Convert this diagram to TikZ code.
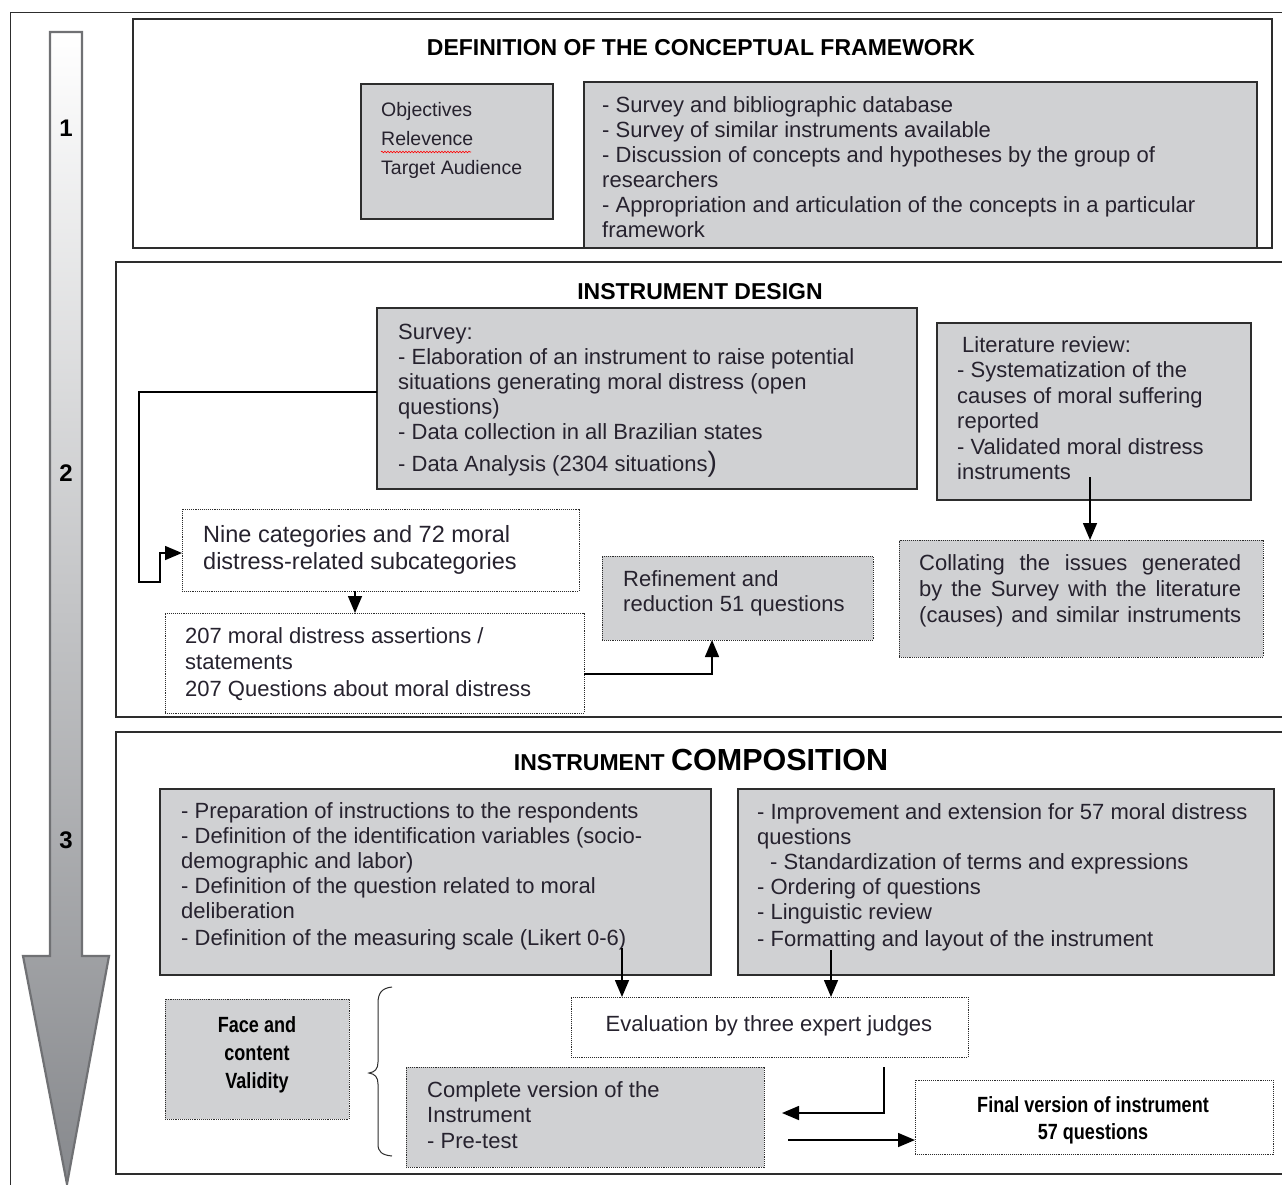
\documentclass[tikz,border=0pt]{standalone}
\usepackage{fontspec}
\setmainfont{Liberation Sans}
\newfontfamily\narrowfont{Liberation Sans}[FakeStretch=0.82]
\usetikzlibrary{arrows.meta,decorations.pathmorphing}
\definecolor{boxgray}{RGB}{208,209,211}
\definecolor{ink}{RGB}{38,34,46}
\definecolor{edgec}{RGB}{45,45,45}
\definecolor{arrowgray}{RGB}{135,137,141}
\definecolor{arrowedge}{RGB}{112,113,116}
\newcommand{\fsz}[2]{\fontsize{#1}{#2}\selectfont}
\tikzset{
  secbox/.style={draw=edgec, line width=1.3pt, anchor=north west, inner sep=0, outer sep=0},
  gbox/.style={draw=edgec, line width=1.3pt, fill=boxgray, anchor=north west, inner sep=0, outer sep=0},
  dbox/.style={draw=edgec, line width=0.9pt, densely dotted, fill=white, anchor=north west, inner sep=0, outer sep=0},
  dgbox/.style={dbox, fill=boxgray},
  txt/.style={anchor=north west, inner sep=0, align=left, text=ink, font=\fsz{22}{25}},
  ttl/.style={font=\bfseries\fsz{23}{27}, text=black, inner sep=0},
  num/.style={font=\bfseries\fsz{24}{28}, text=black, inner sep=0},
  bnarrow/.style={font=\narrowfont\bfseries\fsz{22}{28}, text=black, inner sep=0, align=center},
  arr/.style={draw=black, line width=1.5pt, -{Triangle[length=17pt,width=14pt]}}
}
\begin{document}
\begin{tikzpicture}[x=1pt,y=-1pt]
\useasboundingbox (0,0) rectangle (1282,1184);
\clip (0,0) rectangle (1282,1184);
\fill[white] (0,0) rectangle (1282,1184);

% outer frame
\node[secbox, line width=1pt, minimum width=1300, minimum height=1200] (frame) at (10,12) {};

% big arrow
\shade[top color=white, bottom color=arrowgray]
  (50,32) -- (82,32) -- (82,956) -- (109,956) -- (67,1184) -- (23,956) -- (50,956) -- cycle;
\draw[arrowedge, line width=2.2pt, line join=miter]
  (50,32) -- (82,32) -- (82,956) -- (109,956) -- (67,1184) -- (23,956) -- (50,956) -- cycle;
\node[num] (n1) at (66,128) {1};
\node[num] (n2) at (66,473) {2};
\node[num] (n3) at (66,840) {3};

% ---------- section 1
\node[secbox, minimum width=1139, minimum height=229] (sec1) at (133,19) {};
\node[ttl] (t1) at (701,48) {DEFINITION OF THE CONCEPTUAL FRAMEWORK};
\node[gbox, minimum width=192, minimum height=135] (obj) at (361,84) {};
\node[txt, font=\fsz{19.5}{29}] (objt) at (381,102) {Objectives\\Relevence\\Target Audience};
\draw[red, line width=0.6pt, decorate, decoration={snake, segment length=3pt, amplitude=0.8pt}] (381,152) -- (471,152);
\node[gbox, minimum width=673, minimum height=166] (conc) at (584,82) {};
\node[txt] (conct) at (602,96) {- Survey and bibliographic database\\
- Survey of similar instruments available\\
- Discussion of concepts and hypotheses by the group of\\
researchers\\
- Appropriation and articulation of the concepts in a particular\\
framework};

% ---------- section 2
\node[secbox, minimum width=1184, minimum height=455] (sec2) at (116,262) {};
\node[ttl] (t2) at (700,292) {INSTRUMENT DESIGN};
\node[gbox, minimum width=540, minimum height=181] (survey) at (377,308) {};
\node[txt] (surveyt) at (398,324) {Survey:\\
- Elaboration of an instrument to raise potential\\
situations generating moral distress (open\\
questions)\\
- Data collection in all Brazilian states\\[7pt]
- Data Analysis (2304 situations{\fsz{28}{25})}};
\node[gbox, minimum width=314, minimum height=177] (lit) at (937,323) {};
\node[txt, font=\fsz{22}{25.5}] (litt) at (957,336) {\hspace{5pt}Literature review:\\
- Systematization of the\\
causes of moral suffering\\
reported\\
- Validated moral distress\\
instruments};
\node[dgbox, minimum width=364, minimum height=117] (coll) at (899,540) {};
\node[txt, font=\fsz{22}{26}] (collt) at (919,554) {\makebox[322pt][s]{Collating the issues generated}\\
\makebox[322pt][s]{by the Survey with the literature}\\
\makebox[322pt][s]{(causes) and similar instruments}};
\node[dbox, minimum width=397, minimum height=82] (nine) at (182,509) {};
\node[txt, font=\fsz{23.5}{27}] (ninet) at (203,525) {Nine categories and 72 moral\\distress-related subcategories};
\node[dbox, minimum width=419, minimum height=100] (s207) at (165,613) {};
\node[txt, font=\fsz{22}{26.5}] (s207t) at (185,627) {207 moral distress assertions /\\statements\\207 Questions about moral distress};
\node[dgbox, minimum width=271, minimum height=84] (refine) at (602,556) {};
\node[txt] (refinet) at (623,570) {Refinement and\\reduction 51 questions};

\coordinate (litout) at (1090,477);
\draw[arr] (litout) -- (litout |- coll.north);
\draw[arr] (survey.west |- 0,392) -- (139,392) -- (139,582) -- (160,582) -- (160,553) -- (nine.west |- 0,553);
\draw[arr] (nine.south -| 355,0) -- (s207.north -| 355,0);
\draw[arr] (s207.east |- 0,674) -- (712,674) -- (refine.south -| 712,0);

% ---------- section 3
\node[secbox, minimum width=1184, minimum height=442] (sec3) at (116,732) {};
\node[inner sep=0, text=black] (t3) at (701,760) {\bfseries\fsz{23}{27}INSTRUMENT \fsz{30.5}{34}COMPOSITION};
\node[gbox, minimum width=551, minimum height=186] (prep) at (160,789) {};
\node[txt] (prept) at (181,802) {- Preparation of instructions to the respondents\\
- Definition of the identification variables (socio-\\
demographic and labor)\\
- Definition of the question related to moral\\
deliberation\\[2pt]
- Definition of the measuring scale (Likert 0-6)};
\node[gbox, minimum width=536, minimum height=186] (impr) at (738,789) {};
\node[txt] (imprt) at (757,803) {- Improvement and extension for 57 moral distress\\
questions\\
\hspace{13pt}- Standardization of terms and expressions\\
- Ordering of questions\\
- Linguistic review\\[2pt]
- Formatting and layout of the instrument};
\node[dbox, minimum width=397, minimum height=60] (eval) at (571,997) {};
\node[txt, anchor=center] (evalt) at (769,1026) {Evaluation by three expert judges};
\node[dgbox, minimum width=184, minimum height=120] (face) at (165,999) {};
\node[bnarrow] (facet) at (257,1055) {Face and\\content\\Validity};
\node[dgbox, minimum width=358, minimum height=100] (compl) at (406,1067) {};
\node[txt, font=\fsz{22}{25.5}] (complt) at (427,1081) {Complete version of the\\Instrument\\- Pre-test};
\node[dbox, minimum width=358, minimum height=74] (final) at (915,1080) {};
\node[bnarrow, font=\narrowfont\bfseries\fsz{22}{27}] (finalt) at (1093,1120) {Final version of instrument\\57 questions};

\draw[edgec, line width=1pt] (392,987) .. controls (382,988) and (378,993) .. (378,1003) -- (378,1062)
  .. controls (378,1069) and (375,1072) .. (369,1073) .. controls (375,1074) and (378,1077) .. (378,1084)
  -- (378,1144) .. controls (378,1152) and (382,1155) .. (392,1156);

\coordinate (prepout) at (622,948);
\coordinate (improut) at (831,950);
\coordinate (evalout) at (884,1067);
\coordinate (complin) at (782,1113);
\coordinate (complout) at (788,1140);
\draw[arr] (prepout) -- (prepout |- eval.north);
\draw[arr] (improut) -- (improut |- eval.north);
\draw[arr] (evalout) -- (884,1113) -- (complin);
\draw[arr] (complout) -- (final.west |- complout);
\end{tikzpicture}
\end{document}
